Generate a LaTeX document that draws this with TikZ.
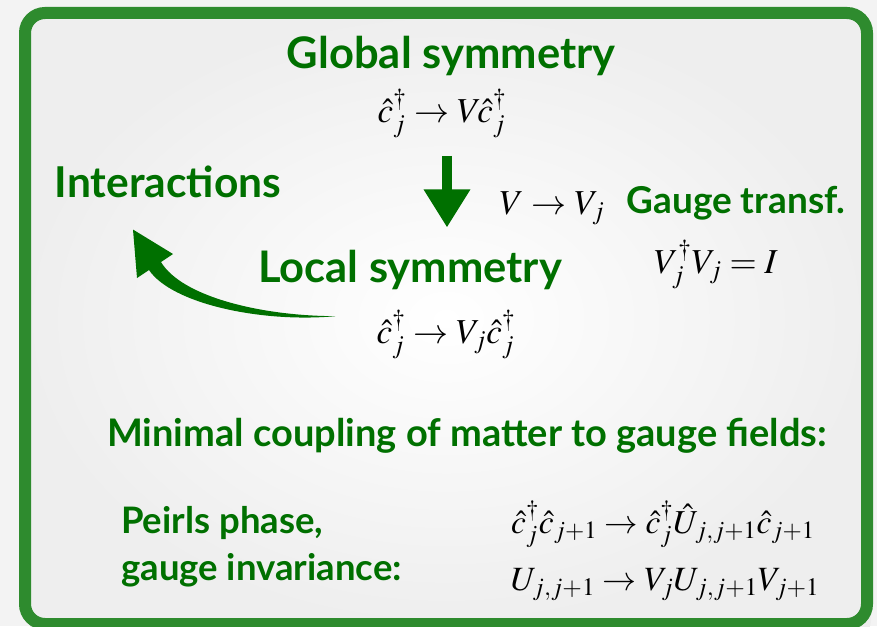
\documentclass[tikz,border=0pt]{standalone}
\usepackage{mathptmx}
\usepackage[no-math]{fontspec}
\newfontfamily\labelfont{Lato}
\usepackage{xcolor}
\definecolor{gsFrame}{RGB}{46,139,46}
\definecolor{gsText}{RGB}{0,112,0}
\definecolor{gsShade}{RGB}{234,234,234}
\usetikzlibrary{arrows.meta,positioning,calc}

\begin{document}
\begin{tikzpicture}[
    x=1pt, y=-1pt,
    headNode/.style={
        font=\labelfont\bfseries\fontsize{43.5}{48}\selectfont,
        text=gsText, inner sep=0pt, anchor=base
    },
    sideNode/.style={
        font=\labelfont\bfseries\fontsize{38}{44}\selectfont,
        text=gsText, inner sep=0pt, anchor=base
    },
    smallNode/.style={
        font=\labelfont\bfseries\fontsize{36.5}{47}\selectfont,
        text=gsText, inner sep=0pt, align=left
    },
    mathNode/.style={
        font=\fontsize{35}{40}\selectfont, inner sep=0pt, anchor=base
    },
    fatArrow/.style={
        draw=gsText, line width=10pt,
        -{Triangle[length=38pt, width=44pt]}
    }
]

    % Page and frame
    \fill[gsShade!60] (0,0) rectangle (877,626);
    \useasboundingbox (0,0) rectangle (877,626);
    \fill[black!7, rounded corners=20pt] (29,17) rectangle (871,640);
    \shade[rounded corners=20pt, inner color=white, outer color=gsShade!80]
        (25,13) rectangle (867,624);
    \draw[gsFrame, line width=12pt, rounded corners=20pt]
        (25,13) rectangle (867,624);

    % Global symmetry
    \node[headNode] (glob) at (451,68) {Global symmetry};
    \node[mathNode] (gmath) at (442,122) {$\hat{c}_j^\dagger \rightarrow V\!\hat{c}_j^\dagger$};

    % Gauge transformation
    \node[mathNode] (vmap) at (552,214) {$V \rightarrow V_j$};
    \node[sideNode, font=\labelfont\bfseries\fontsize{37}{42}\selectfont] (gauge) at (736,213) {Gauge transf.};
    \node[mathNode] (unit) at (716,273) {$V_j^\dagger V_j = I$};

    % Local symmetry
    \node[headNode] (loc) at (410,282) {Local symmetry};
    \node[mathNode] (lmath) at (446,343) {$\hat{c}_j^\dagger \rightarrow V_j\hat{c}_j^\dagger$};

    % Interactions
    \node[headNode, font=\labelfont\bfseries\fontsize{42.5}{48}\selectfont] (inter) at (168,197) {Interactions};

    % Minimal coupling
    \node[sideNode] (coupl) at (467,446) {Minimal coupling of matter to gauge fields:};

    \node[smallNode, anchor=base west] (peirls) at (121,580) {Peirls phase,\\gauge invariance:};
    \node[mathNode, font=\fontsize{33.5}{38}\selectfont] (hop) at (663,533) {$\hat{c}_j^\dagger\hat{c}_{j+1} \rightarrow \hat{c}_j^\dagger\hat{U}_{j,j+1}\hat{c}_{j+1}$};
    \node[mathNode, font=\fontsize{34}{38}\selectfont] (link) at (665,590) {$U_{j,j+1} \rightarrow V_jU_{j,j+1}V_{j+1}$};

    % Arrows
    \draw[fatArrow, shorten <=18pt, shorten >=22pt]
        ([xshift=5pt]gmath.south) -- ([xshift=5pt]gmath.south |- loc.north);

    \coordinate (sweepTail) at ([xshift=-41pt, yshift=18pt]lmath.west);
    \coordinate (sweepTip) at ([xshift=-35pt, yshift=-32pt]inter.south);
    \fill[gsText] (sweepTail) .. controls (262,316) and (182,297) .. (161,262)
        -- (173,254) -- (sweepTip) -- (137,278) -- (149,270)
        .. controls (172,304) and (262,323) .. (sweepTail) -- cycle;

\end{tikzpicture}
\end{document}
